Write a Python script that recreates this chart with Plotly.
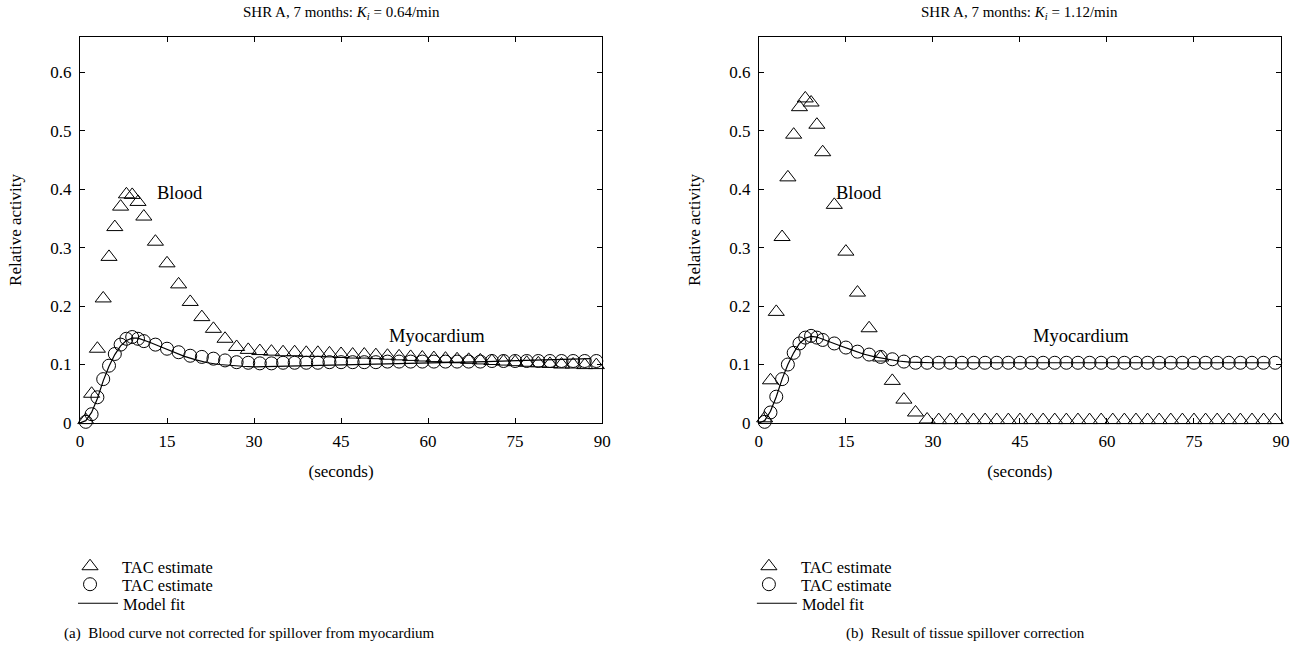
import plotly.graph_objects as go

# ---------------- data ----------------
t = [1, 2, 3, 4, 5, 6, 7, 8, 9, 10, 11] + list(range(13, 90, 2))

blood_a = [0.005, 0.05, 0.127, 0.213, 0.284, 0.335, 0.37, 0.391, 0.39, 0.378, 0.353,
           0.31, 0.273, 0.237, 0.207, 0.181, 0.161, 0.144, 0.13, 0.125,
           0.123, 0.122, 0.121, 0.121, 0.12, 0.12, 0.119, 0.118, 0.117, 0.117,
           0.116, 0.115, 0.114, 0.113, 0.112, 0.111, 0.11, 0.109, 0.108, 0.107,
           0.106, 0.105, 0.104, 0.103, 0.102, 0.101, 0.1, 0.1, 0.099, 0.099]

myo_a = [0.002, 0.015, 0.044, 0.075, 0.098, 0.118, 0.134, 0.144, 0.147, 0.144, 0.14,
         0.134, 0.127, 0.121, 0.115, 0.113, 0.11, 0.107, 0.104, 0.103,
         0.102, 0.102, 0.103, 0.103, 0.103, 0.103, 0.104, 0.104, 0.104, 0.104,
         0.104, 0.105, 0.105, 0.105, 0.105, 0.105, 0.105, 0.105, 0.105, 0.105,
         0.106, 0.106, 0.106, 0.106, 0.106, 0.106, 0.106, 0.106, 0.106, 0.106]

blood_b = [0.008, 0.073, 0.19, 0.318, 0.42, 0.493, 0.54, 0.555, 0.548, 0.51, 0.463,
           0.373, 0.293, 0.223, 0.162, 0.112, 0.072, 0.04, 0.018, 0.006,
           0.005, 0.005, 0.005, 0.005, 0.005, 0.005, 0.005, 0.005, 0.005, 0.005,
           0.005, 0.005, 0.005, 0.005, 0.005, 0.005, 0.005, 0.005, 0.005, 0.005,
           0.005, 0.005, 0.005, 0.005, 0.005, 0.005, 0.005, 0.005, 0.005, 0.005]

myo_b = [0.002, 0.018, 0.045, 0.075, 0.1, 0.12, 0.136, 0.146, 0.149, 0.146, 0.142,
         0.136, 0.129, 0.122, 0.117, 0.113, 0.109, 0.105, 0.103, 0.103,
         0.103, 0.103, 0.103, 0.103, 0.103, 0.103, 0.103, 0.103, 0.103, 0.103,
         0.103, 0.103, 0.103, 0.103, 0.103, 0.103, 0.103, 0.103, 0.103, 0.103,
         0.103, 0.103, 0.103, 0.103, 0.103, 0.103, 0.103, 0.103, 0.103, 0.103]

fit_t = [0, 1, 2, 3, 4, 5, 6, 7, 8, 9, 10, 11, 12, 14, 16, 18, 20, 22, 24, 26, 28,
         30, 35, 40, 45, 50, 60, 70, 80, 88]
fit_a = [0, 0.004, 0.018, 0.042, 0.072, 0.097, 0.117, 0.132, 0.141, 0.145, 0.145,
         0.142, 0.138, 0.13, 0.122, 0.114, 0.108, 0.103, 0.1, 0.098, 0.097,
         0.096, 0.097, 0.098, 0.099, 0.1, 0.102, 0.105, 0.108, 0.11]
fit_b = [0, 0.004, 0.02, 0.045, 0.075, 0.1, 0.12, 0.136, 0.145, 0.148, 0.147,
         0.143, 0.139, 0.132, 0.125, 0.118, 0.113, 0.109, 0.106, 0.104, 0.103,
         0.103, 0.103, 0.103, 0.103, 0.103, 0.103, 0.103, 0.103, 0.103]

x_ticks = [0, 15, 30, 45, 60, 75, 90]
y_ticks = [0, 0.1, 0.2, 0.3, 0.4, 0.5, 0.6]
y_tick_text = ["0", "0.1", "0.2", "0.3", "0.4", "0.5", "0.6"]

titles = ["SHR A, 7 months: <i>K</i><sub><i>i</i></sub> = 0.64/min",
          "SHR A, 7 months: <i>K</i><sub><i>i</i></sub> = 1.12/min"]
captions = ["(a)  Blood curve not corrected for spillover from myocardium",
            "(b)  Result of tissue spillover correction"]
legend_names = ["TAC estimate", "TAC estimate", "Model fit"]

# ---------------- figure ----------------
FONT = "Liberation Serif, Times New Roman, serif"
W, H = 1302, 646
ML, MR, MT, MB = 80, 19, 37, 223
PW = W - ML - MR
PH = H - MT - MB


def px_x(px):
    return (px - ML) / PW


def px_y(py):
    return (H - MB - py) / PH


fig = go.Figure()

# per panel: axes and pixel offset of its legend block
panels = [
    dict(blood=blood_a, myo=myo_a, fit=fit_a, xa="x", ya="y",
         legs=["legend", "legend2", "legend3"], lx=0),
    dict(blood=blood_b, myo=myo_b, fit=fit_b, xa="x2", ya="y2",
         legs=["legend4", "legend5", "legend6"], lx=680),
]

LEGF = dict(family=FONT, size=16.5, color="black")
legend_layout = {}
row_centers = [564, 582, 601]

for p in panels:
    fig.add_trace(go.Scatter(
        x=t, y=p["blood"], mode="markers", name=legend_names[0],
        marker=dict(symbol="triangle-up-open", size=14, color="black",
                    line=dict(width=1, color="black")),
        xaxis=p["xa"], yaxis=p["ya"], legend=p["legs"][0], cliponaxis=False))
    fig.add_trace(go.Scatter(
        x=t, y=p["myo"], mode="markers", name=legend_names[1],
        marker=dict(symbol="circle-open", size=13, color="black",
                    line=dict(width=1, color="black")),
        xaxis=p["xa"], yaxis=p["ya"], legend=p["legs"][1], cliponaxis=False))
    fig.add_trace(go.Scatter(
        x=fit_t, y=p["fit"], mode="lines", name=legend_names[2],
        line=dict(color="black", width=1.2),
        xaxis=p["xa"], yaxis=p["ya"], legend=p["legs"][2]))
    for k, name in enumerate(p["legs"]):
        iw = 54 if k < 2 else 40
        ox = (58 if k < 2 else 73) + p["lx"]
        legend_layout[name] = dict(
            x=px_x(ox), xanchor="left", y=px_y(row_centers[k] - 15), yanchor="top",
            bgcolor="rgba(0,0,0,0)", itemwidth=iw, font=LEGF)

TICKF = dict(family=FONT, size=17, color="black")
TITF = dict(family=FONT, size=17, color="black")

axis_common = dict(
    showline=True, linecolor="black", linewidth=1, mirror="ticks",
    ticks="inside", ticklen=5, tickcolor="black", showgrid=False, zeroline=False,
    tickfont=TICKF,
)
xcommon = dict(range=[0, 90], tickvals=x_ticks, ticklabelstandoff=3, **axis_common)
ycommon = dict(domain=[0, 1], range=[0, 0.66], tickvals=y_ticks, ticktext=y_tick_text,
               ticklabelstandoff=4, **axis_common)

left_dom = [0, 523 / PW]
right_dom = [680 / PW, 1]

fig.update_layout(
    width=W, height=H,
    showlegend=True,
    margin=dict(l=ML, r=MR, t=MT, b=MB),
    paper_bgcolor="white", plot_bgcolor="white",
    font=dict(family=FONT, size=15, color="black"),
    xaxis=dict(domain=left_dom, anchor="y",
               title=dict(text="(seconds)", font=TITF, standoff=14), **xcommon),
    yaxis=dict(anchor="x",
               title=dict(text="Relative activity", font=TITF, standoff=24), **ycommon),
    xaxis2=dict(domain=right_dom, anchor="y2",
                title=dict(text="(seconds)", font=TITF, standoff=14), **xcommon),
    yaxis2=dict(anchor="x2",
                title=dict(text="Relative activity", font=TITF, standoff=24), **ycommon),
    **legend_layout,
)

ann = []
for i, xd in enumerate([left_dom, right_dom]):
    cx = (xd[0] + xd[1]) / 2
    ann.append(dict(text=titles[i], x=cx, y=px_y(13), xref="paper", yref="paper",
                    xanchor="center", yanchor="middle", showarrow=False,
                    font=dict(family=FONT, size=15, color="black")))
cap_font = dict(family=FONT, size=15, color="black")
ann.append(dict(text=captions[0], x=px_x(62), y=px_y(633), xref="paper",
                yref="paper", xanchor="left", yanchor="middle", showarrow=False,
                font=cap_font))
ann.append(dict(text=captions[1], x=px_x(845), y=px_y(633), xref="paper",
                yref="paper", xanchor="left", yanchor="middle", showarrow=False,
                font=cap_font))
# in-plot labels
lab_font = dict(family=FONT, size=18.5, color="black")
for xa, ya, bx, mx in [("x", "y", 17.2, 61.5), ("x2", "y2", 17.2, 55.6)]:
    ann.append(dict(text="Blood", x=bx, y=0.393, xref=xa, yref=ya, showarrow=False,
                    font=lab_font))
    ann.append(dict(text="Myocardium", x=mx, y=0.149, xref=xa, yref=ya, showarrow=False,
                    font=lab_font))
fig.update_layout(annotations=ann)

fig.write_html("out.html", config={"displayModeBar": False},
               post_script="document.body.style.margin='0px';")
